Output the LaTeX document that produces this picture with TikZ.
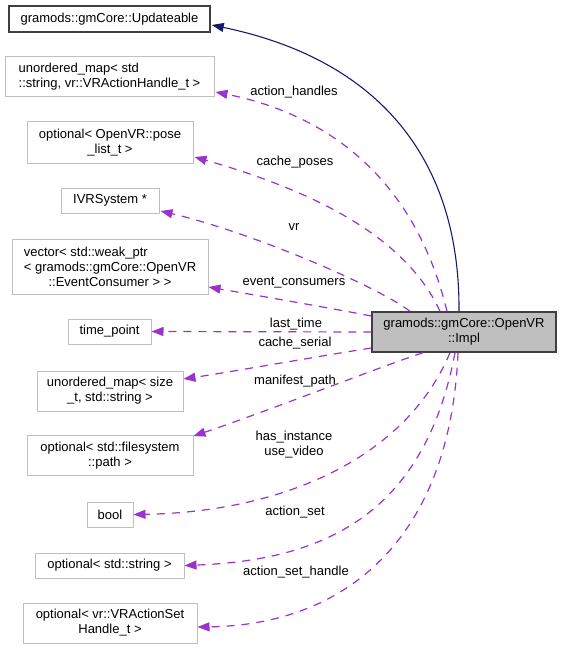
\documentclass[tikz,border=0pt]{standalone}
\usepackage{fontspec}
\setmainfont{Liberation Sans}
\usepackage{calc}
\usetikzlibrary{arrows.meta,calc}
\definecolor{edgep}{HTML}{9A32CD}
\definecolor{navyc}{HTML}{191970}
\definecolor{gb}{HTML}{BFBFBF}
\definecolor{db}{HTML}{404040}
\begin{document}
\begin{tikzpicture}[x=1pt,y=-1pt,
  box/.style={draw=gb, line width=1pt, fill=white, inner sep=0pt, align=center,
    font=\fontsize{13}{15}\selectfont, text=black},
  darkbox/.style={box, draw=db, line width=1.5pt},
  lbl/.style={inner sep=0pt, align=center, font=\fontsize{13}{15}\selectfont, text=black},
  memb/.style={draw=edgep, line width=1.2pt, dash pattern=on 8pt off 7pt,
    -{Triangle[length=12pt,width=9pt]}},
  inh/.style={draw=navyc, line width=1.1pt, -{Triangle[length=12pt,width=9pt]}}]
\useasboundingbox (0,0) rectangle (561,650);
\fill[white] (0,0) rectangle (561,650);

\node[darkbox, minimum width=201, minimum height=26] (upd) at (109.5,19) {gramods::gmCore::Updateable};
\node[box, minimum width=209, minimum height=40, align=left] (um1) at (109.5,77) {unordered\_map< std\\::string, vr::VRActionHandle\_t >};
\node[box, minimum width=166, minimum height=41] (opt1) at (110,142.5) {optional< OpenVR::pose\\\_list\_t >};
\node[box, minimum width=98, minimum height=25] (ivr) at (110,200.5) {IVRSystem *};
\node[box, minimum width=196, minimum height=55] (vec) at (110,266.5) {\makebox[\widthof{< gramods::gmCore::OpenVR}][l]{vector< std::weak\_ptr}\\< gramods::gmCore::OpenVR\\::EventConsumer > >};
\node[box, minimum width=83, minimum height=25] (tp) at (109.5,331.5) {time\_point};
\node[box, minimum width=146, minimum height=40] (um2) at (110,391) {unordered\_map< size\\\_t, std::string >};
\node[box, minimum width=166, minimum height=40] (optfs) at (110,455.5) {optional< std::filesystem\\::path >};
\node[box, minimum width=46, minimum height=25] (nbool) at (110,514.5) {bool};
\node[box, minimum width=149, minimum height=25] (optstr) at (109.5,565.5) {optional< std::string >};
\node[box, minimum width=174, minimum height=40] (optvr) at (110,623) {optional< vr::VRActionSet\\Handle\_t >};
\node[darkbox, fill=gb, minimum width=184, minimum height=40] (impl) at (464,332) {gramods::gmCore::OpenVR\\::Impl};

\draw[inh] ($(impl.north)+(-5,0)$) .. controls (460,160) and (380,60) .. ($(upd.east)+(1,6)$);
\draw[memb] ($(impl.north)+(-17,0)$) .. controls (415,180) and (330,115) .. ($(um1.east)+(1,15)$);
\draw[memb] ($(impl.north)+(-24,0)$) .. controls (405,235) and (310,190) .. ($(opt1.east)+(1,14.5)$);
\draw[memb] ($(impl.north)+(-54,0)$) .. controls (375,285) and (250,232) .. ($(ivr.east)+(1,10.5)$);
\draw[memb] ($(impl.west)+(0,-16)$) .. controls (330,308) and (260,296) .. ($(vec.east)+(0,20.5)$);
\draw[memb] (impl.west) -- (tp.east);
\draw[memb] ($(impl.west)+(0,16)$) .. controls (320,356) and (230,372) .. ($(um2.east)+(0,-12)$);
\draw[memb] ($(impl.south)+(-41,0)$) .. controls (385,365) and (265,412) .. ($(optfs.east)+(0,-19.5)$);
\draw[memb] ($(impl.south)+(-14,0)$) .. controls (405,460) and (280,512) .. (nbool.east);
\draw[memb] ($(impl.south)+(-9,0)$) .. controls (425,510) and (330,560) .. (optstr.east);
\draw[memb] ($(impl.south)+(-6,0)$) .. controls (450,540) and (345,625) .. ($(optvr.east)+(0,4)$);

\node[lbl] (lah) at (294,92) {action\_handles};
\node[lbl] (lcp) at (295,162) {cache\_poses};
\node[lbl] (lvr) at (294,227) {vr};
\node[lbl] (lec) at (294,283) {event\_consumers};
\node[lbl] (llt) at (296,324) {last\_time};
\node[lbl] (lcs) at (295,343) {cache\_serial};
\node[lbl] (lmp) at (295,381) {manifest\_path};
\node[lbl] (lhi) at (294,444.5) {has\_instance\\use\_video};
\node[lbl] (las) at (295,512) {action\_set};
\node[lbl] (lash) at (296,572) {action\_set\_handle};
\end{tikzpicture}
\end{document}
